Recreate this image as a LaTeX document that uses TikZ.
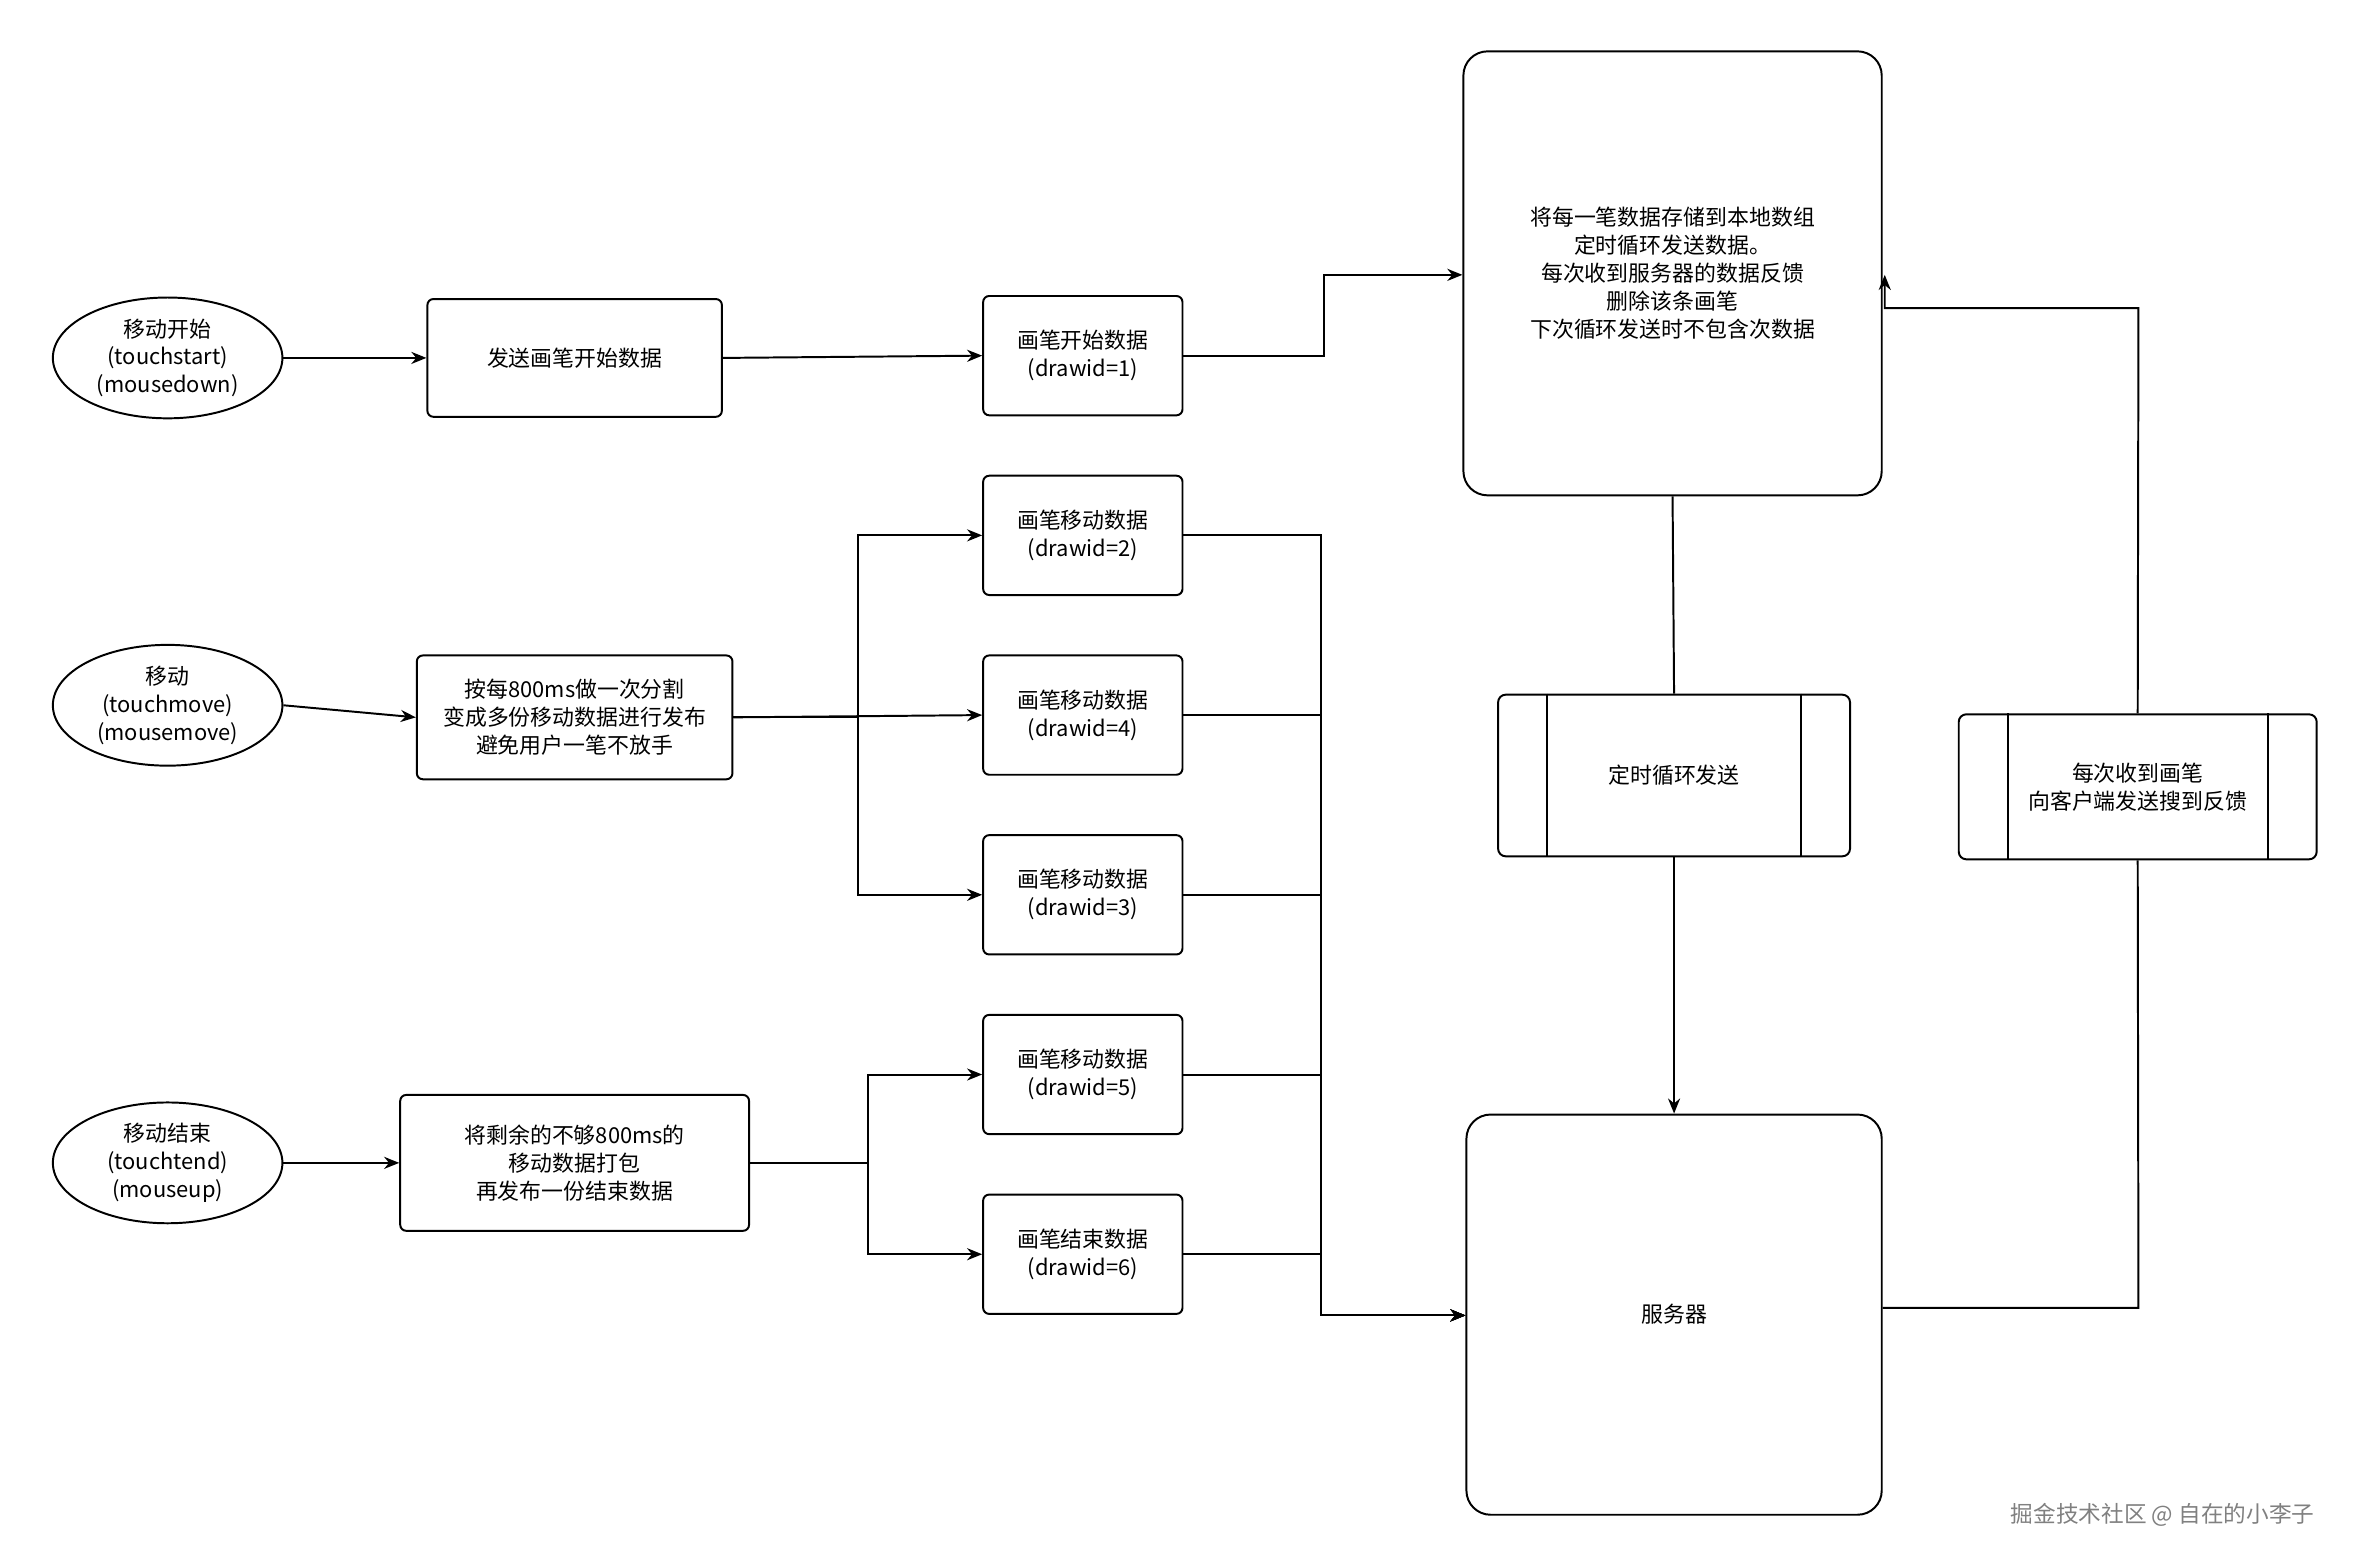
\documentclass[tikz,border=0pt]{standalone}
\usepackage{fontspec}
\setmainfont{Noto Sans CJK SC}
\usetikzlibrary{arrows.meta,shapes.geometric}
\begin{document}
\begin{tikzpicture}[x=1pt,y=-1pt,line width=1.3pt,
  every node/.style={font=\fontsize{14.5}{18.5}\selectfont,align=center,inner sep=0pt},
  ell/.style={draw,ellipse,minimum width=152pt,minimum height=80pt},
  box/.style={draw,rounded corners=4pt,minimum width=#1,minimum height=79pt},
  dat/.style={draw,rounded corners=4pt,minimum width=132pt,minimum height=79pt},
  big/.style={draw,rounded corners=16pt},
  arr/.style={-{Stealth[length=10pt,width=8pt]}}]
\useasboundingbox (0,0) rectangle (1568,1038);
\node[ell] (e1) at (111,237) {移动开始\\(touchstart)\\(mousedown)};
\node[ell] (e2) at (111,467) {移动\\(touchmove)\\(mousemove)};
\node[ell] (e3) at (111,770) {移动结束\\(touchtend)\\(mouseup)};
\node[box=195pt,minimum height=78pt] (b1) at (380.5,237) {发送画笔开始数据};
\node[box=209pt,minimum height=82pt] (b2) at (380.5,475) {按每800ms做一次分割\\变成多份移动数据进行发布\\避免用户一笔不放手};
\node[box=231pt,minimum height=90pt] (b3) at (380.5,770) {将剩余的不够800ms的\\移动数据打包\\再发布一份结束数据};
\node[dat] (d1) at (717,235.5) {画笔开始数据\\(drawid=1)};
\node[dat] (d2) at (717,354.5) {画笔移动数据\\(drawid=2)};
\node[dat] (d4) at (717,473.5) {画笔移动数据\\(drawid=4)};
\node[dat] (d3) at (717,592.5) {画笔移动数据\\(drawid=3)};
\node[dat] (d5) at (717,711.5) {画笔移动数据\\(drawid=5)};
\node[dat] (d6) at (717,830.5) {画笔结束数据\\(drawid=6)};
\node[big,minimum width=277pt,minimum height=294pt] (st) at (1107.5,181) {将每一笔数据存储到本地数组\\定时循环发送数据。\\每次收到服务器的数据反馈\\删除该条画笔\\下次循环发送时不包含次数据};
\node[big,minimum width=275pt,minimum height=265pt] (sv) at (1108.5,870.5) {服务器};
\node[draw,rounded corners=5pt,minimum width=233pt,minimum height=107pt] (tm) at (1108.5,513.5) {定时循环发送};
\draw ([xshift=33pt]tm.north west) -- ([xshift=33pt]tm.south west);
\draw ([xshift=-33pt]tm.north east) -- ([xshift=-33pt]tm.south east);
\node[draw,rounded corners=5pt,minimum width=237pt,minimum height=96pt] (fb) at (1415.5,521) {每次收到画笔\\向客户端发送搜到反馈};
\draw ([xshift=33pt]fb.north west) -- ([xshift=33pt]fb.south west);
\draw ([xshift=-33pt]fb.north east) -- ([xshift=-33pt]fb.south east);
\node[text=gray,font=\fontsize{15}{18}\selectfont] (wm) at (1432,1003) {掘金技术社区 @ 自在的小李子};
% left arrows
\draw[arr] (e1.east) -- (b1.west);
\draw[arr] (b1.east) -- (d1.west);
\draw[arr] (e2.east) -- (b2.west);
\draw[arr] (b2.east) -- (d4.west);
\draw[arr] (b2.east) -- (568,475) |- (d2.west);
\draw[arr] (b2.east) -- (568,475) |- (d3.west);
\draw[arr] (e3.east) -- (b3.west);
\draw[arr] (b3.east) -- (575,770) |- (d5.west);
\draw[arr] (b3.east) -- (575,770) |- (d6.west);
% to store / server
\draw[arr] (d1.east) -- (877,235.5) -- (877,182) -- (st.west |- 0,182);
\foreach \d in {d2,d4,d3,d5,d6} \draw[arr] (\d.east) -- (\d.east -| 875,0) -- (875,871) -- (sv.west |- 0,871);
\draw (st.south) -- (tm.north);
\draw[arr] (tm.south) -- (sv.north);
\draw (sv.east |- 0,866) -- (1416,866) -- (fb.south);
\draw[arr] (fb.north) -- (1416,204) -- (1248,204) -- (1248,182);
\end{tikzpicture}
\end{document}
